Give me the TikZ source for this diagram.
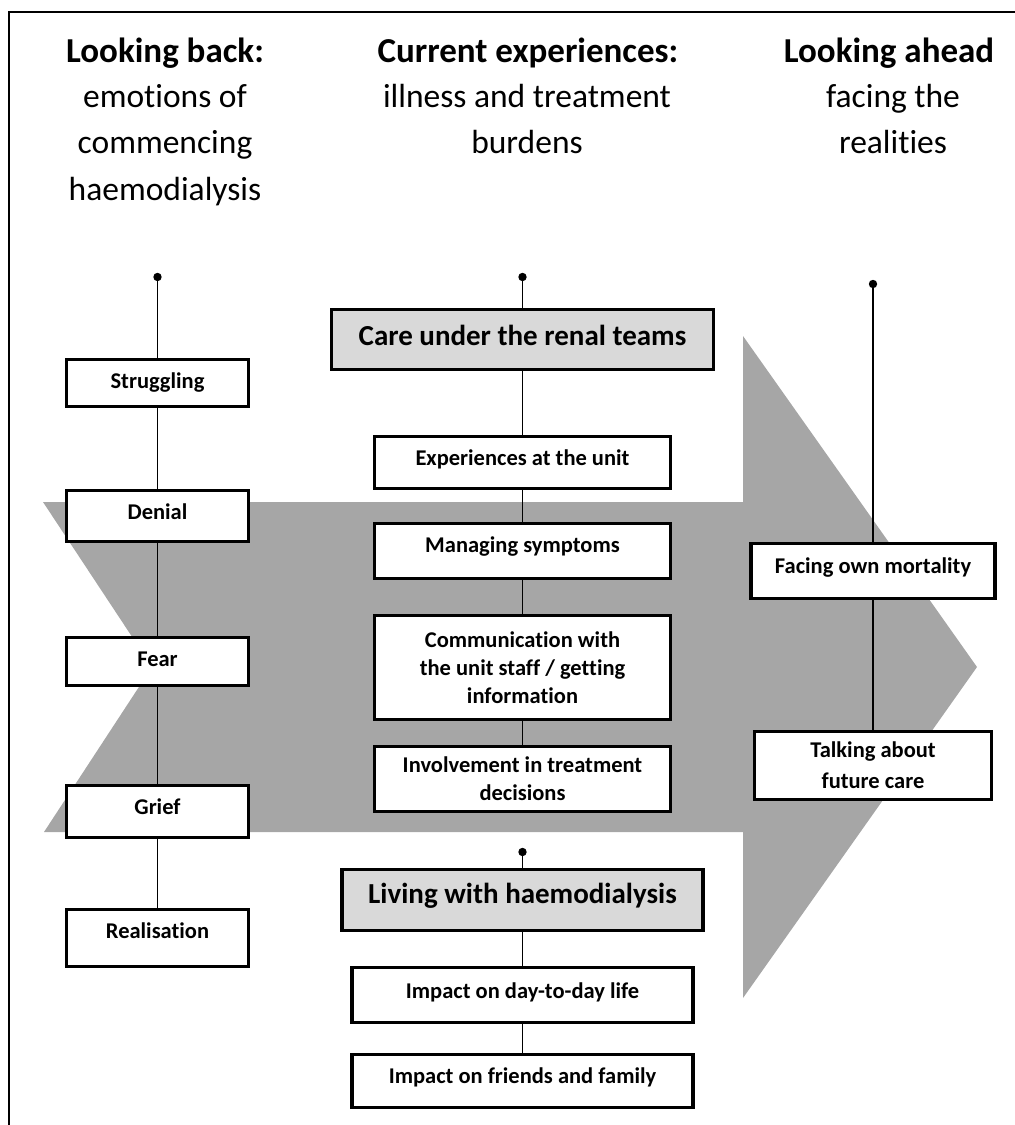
\documentclass[tikz,border=0pt]{standalone}
\usepackage{fontspec}
\setmainfont{Carlito}[Ligatures=NoCommon]
\usetikzlibrary{backgrounds}
\definecolor{arrowgray}{RGB}{166,166,166}
\definecolor{headfill}{RGB}{217,217,217}
\begin{document}
\begin{tikzpicture}[x=1pt,y=-1pt,
  box/.style={draw=black,line width=3.4pt,fill=white,inner xsep=2pt,inner ysep=0pt,
    font=\fontsize{22.5}{28}\selectfont\bfseries},
  lbox/.style={box,minimum width=182pt,text height=28.5pt},
  mbox/.style={box,minimum width=296pt,text height=28.5pt},
  multibox/.style={box,align=center,inner ysep=2pt},
  headbox/.style={draw=black,line width=3.4pt,fill=headfill,inner xsep=2pt,inner ysep=0pt,
    font=\fontsize{29}{34}\selectfont\bfseries},
  link/.style={line width=1.6pt,black},
  dotmark/.style={fill=black},
  title/.style={font=\fontsize{35}{46}\selectfont\bfseries,anchor=base,inner sep=0pt},
  subtitle/.style={font=\fontsize{33.5}{46}\selectfont,anchor=base,inner sep=0pt}
]
\useasboundingbox (0,0) rectangle (1015,1125);
% frame
\draw[line width=1.2pt] (9,1125) -- (9,12) -- (1015,12);

% column headings
\node[title] (h1) at (165,62) {Looking back:};
\node[subtitle] (h1a) at (165,107) {emotions of};
\node[subtitle] (h1b) at (165,153) {commencing};
\node[subtitle] (h1c) at (165,200) {haemodialysis};
\node[title] (h2) at (528,62) {Current experiences:};
\node[subtitle] (h2a) at (527,107) {illness and treatment};
\node[subtitle] (h2b) at (527,153) {burdens};
\node[title] (h3) at (889,62) {Looking ahead};
\node[subtitle] (h3a) at (893,107) {facing the};
\node[subtitle] (h3b) at (893,153) {realities};

% left column
\node[lbox,text depth=18.5pt] (strug) at (157.5,383) {Struggling};
\node[lbox,text depth=22.5pt] (denial) at (157.5,516) {Denial};
\node[lbox,text depth=19.5pt] (fear) at (157.5,661.5) {Fear};
\node[lbox,text depth=23.5pt] (grief) at (157.5,811.5) {Grief};
\node[lbox,text depth=28.5pt] (real) at (157.5,938) {Realisation};

% middle column
\node[headbox,minimum width=382pt,text height=35.5pt,text depth=24.5pt] (care) at (522.5,339.5) {Care under the renal teams};
\node[mbox,text depth=23.5pt] (exp) at (522.5,462.5) {Experiences at the unit};
\node[mbox,text depth=26.5pt] (manage) at (522.5,551) {Managing symptoms};
\node[multibox,minimum width=296pt,minimum height=104pt] (comm) at (522.5,667.5)
  {Communication with\\the unit staff / getting\\information};
\node[multibox,minimum width=296pt,minimum height=65pt] (invol) at (522.5,779)
  {Involvement in treatment\\decisions};
\node[headbox,minimum width=361pt,text height=33.5pt,text depth=27.5pt] (living) at (522.5,900) {Living with haemodialysis};
\node[box,minimum width=341pt,text height=30.5pt,text depth=24.5pt] (daily) at (522.5,995) {Impact on day-to-day life};
\node[box,minimum width=341pt,text height=28.5pt,text depth=24.5pt] (family) at (522.5,1081) {Impact on friends and family};

% right column
\node[box,minimum width=244pt,text height=29.5pt,text depth=25.5pt] (mort) at (873,571) {Facing own mortality};
\node[multibox,minimum width=237pt,minimum height=68pt,font=\fontsize{22.5}{31}\selectfont\bfseries] (talk) at (873,765.5)
  {Talking about\\future care};

% start points of the timelines
\coordinate (dL) at (157.5,277);
\coordinate (dM) at (522.5,277);
\coordinate (dR) at (873,284);
\coordinate (dM2) at (522.5,852);

\begin{pgfonlayer}{background}
  % big arrow
  \fill[arrowgray] (43,502) -- (743,502) -- (743,336) -- (977,667) -- (743,998)
    -- (743,832) -- (44,832) -- (152,667) -- cycle;
  % connectors
  \draw[link] (dL) -- (strug);
  \draw[link] (strug) -- (denial);
  \draw[link] (denial) -- (fear);
  \draw[link] (fear) -- (grief);
  \draw[link] (grief) -- (real);
  \draw[link] (dM) -- (care);
  \draw[link] (care) -- (exp);
  \draw[link] (exp) -- (manage);
  \draw[link] (manage) -- (comm);
  \draw[link] (comm) -- (invol);
  \draw[link] (dM2) -- (living);
  \draw[link] (living) -- (daily);
  \draw[link] (daily) -- (family);
  \draw[link] (dR) -- (mort);
  \draw[link] (mort) -- (talk);
\end{pgfonlayer}
\fill[dotmark] (dL) circle (4.2pt);
\fill[dotmark] (dM) circle (4.2pt);
\fill[dotmark] (dR) circle (4.2pt);
\fill[dotmark] (dM2) circle (4.2pt);
\end{tikzpicture}
\end{document}
